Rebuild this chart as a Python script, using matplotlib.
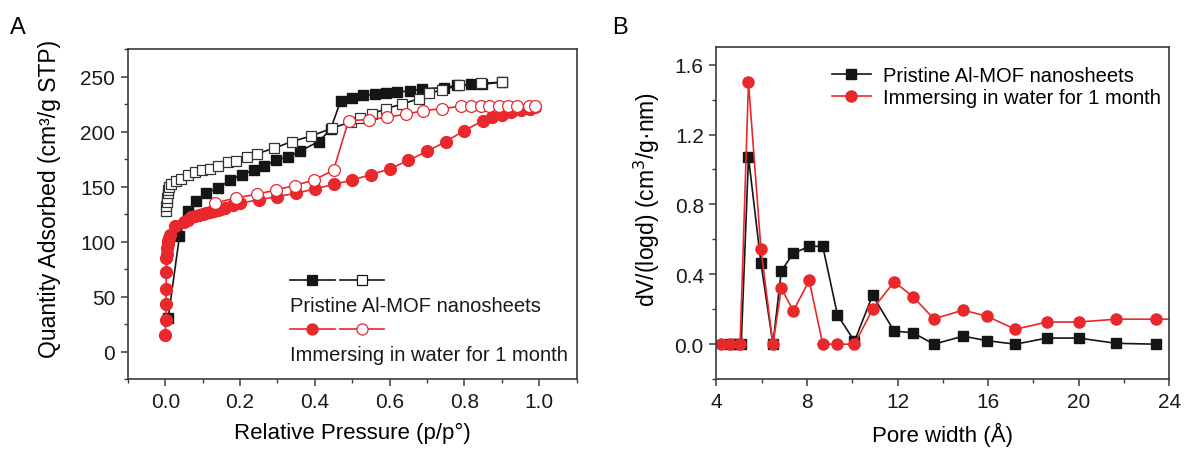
import matplotlib
matplotlib.use("Agg")
import matplotlib.pyplot as plt
from matplotlib.ticker import MultipleLocator, FormatStrFormatter

plt.rcParams['font.family'] = ['Liberation Sans', 'DejaVu Sans']
plt.rcParams['axes.linewidth'] = 1.2

RED = '#e8282b'
BLK = '#151515'

# ---- panel A: N2 isotherms (p/p0, cm3/g STP)
prist_ads_p = [0.008, 0.038, 0.06, 0.083, 0.11, 0.142, 0.174, 0.204, 0.236, 0.265, 0.295, 0.327,
               0.359, 0.41, 0.442, 0.469, 0.50, 0.53, 0.56, 0.59, 0.62, 0.654, 0.686, 0.745,
               0.78, 0.818, 0.848, 0.90]
prist_ads_q = [31, 105, 128, 137, 144, 149, 156, 161, 165, 169, 174, 177,
               182, 191, 202, 228, 231, 233, 234, 235, 236, 237, 239, 240,
               242, 243, 243, 245]
prist_des_p = [0.002, 0.003, 0.004, 0.005, 0.006, 0.008, 0.01, 0.016, 0.03, 0.043, 0.062, 0.08,
               0.097, 0.12, 0.142, 0.169, 0.19, 0.218, 0.245, 0.292, 0.338, 0.39, 0.445, 0.497,
               0.52, 0.553, 0.59, 0.633, 0.678, 0.705, 0.74, 0.786, 0.845, 0.9]
prist_des_q = [128, 132, 136, 140, 144, 147, 150, 152, 155, 157, 161, 163,
               165, 166, 169, 172, 173, 177, 180, 185, 191, 196, 203, 209,
               212, 216, 221, 225, 230, 235, 238, 242, 244, 245]
water_ads_p = [0.000, 0.001, 0.002, 0.002, 0.003, 0.003, 0.004, 0.005, 0.006, 0.007, 0.009, 0.012,
               0.027, 0.05, 0.06, 0.07, 0.08, 0.09, 0.10, 0.11, 0.12, 0.13, 0.14, 0.15, 0.16,
               0.18, 0.20, 0.25, 0.30, 0.35, 0.40, 0.45, 0.50, 0.55, 0.60, 0.65, 0.70, 0.75,
               0.80, 0.85, 0.875, 0.90, 0.925, 0.95, 0.975, 0.99]
water_ads_q = [15, 29, 43, 57, 72, 85, 89, 94, 98, 101, 103, 106,
               114, 118, 120, 122, 123, 124, 125, 126, 127, 128, 129, 130, 131,
               133, 135, 138, 141, 144, 148, 152, 156, 161, 166, 174, 182, 191,
               201, 210, 213, 215, 218, 220, 221, 222]
water_des_p = [0.134, 0.19, 0.245, 0.295, 0.346, 0.397, 0.45, 0.49, 0.544, 0.593, 0.643, 0.69,
               0.74, 0.79, 0.818, 0.845, 0.866, 0.893, 0.917, 0.94, 0.973, 0.99]
water_des_q = [135, 140, 143, 147, 151, 156, 165, 210, 211, 213, 216, 219,
               221, 223, 223, 223, 223, 223, 223, 223, 223, 223]

# ---- panel B: pore size distribution
prist_w = [4.6, 4.9, 5.1, 5.42, 5.97, 6.5, 6.87, 7.4, 8.1, 8.7, 9.35, 10.1, 10.9,
           11.85, 12.7, 13.6, 14.9, 15.95, 17.2, 18.6, 20.0, 21.65, 23.4]
prist_dv = [0.0, 0.0, 0.0, 1.07, 0.465, 0.0, 0.42, 0.52, 0.56, 0.56, 0.167, 0.017, 0.28,
            0.075, 0.065, 0.0, 0.046, 0.02, 0.0, 0.035, 0.035, 0.005, 0.0]
water_w = [4.2, 4.6, 5.05, 5.42, 5.97, 6.5, 6.87, 7.4, 8.1, 8.7, 9.35, 10.1, 10.9,
           11.85, 12.7, 13.6, 14.9, 15.95, 17.2, 18.6, 20.0, 21.65, 23.4, 25.2]
water_dv = [0.0, 0.0, 0.0, 1.50, 0.545, 0.0, 0.32, 0.19, 0.365, 0.0, 0.0, 0.0, 0.2,
            0.357, 0.27, 0.145, 0.195, 0.16, 0.085, 0.127, 0.127, 0.143, 0.143, 0.143]

fig = plt.figure(figsize=(11.84, 4.52), dpi=100)
axA = fig.add_axes([0.108, 0.159, 0.379, 0.730])
axB = fig.add_axes([0.605, 0.159, 0.3826, 0.7345])

# panel A
axA.plot(prist_ads_p, prist_ads_q, '-s', color=BLK, ms=7.5, lw=1.2, mfc=BLK, mec=BLK)
axA.plot(prist_des_p, prist_des_q, '-s', color=BLK, ms=7.5, lw=1.2, mfc='white', mec='#333333', mew=0.9)
axA.plot(water_ads_p, water_ads_q, '-o', color=RED, ms=8.5, lw=1.2, mfc=RED, mec=RED)
axA.plot(water_des_p, water_des_q, '-o', color=RED, ms=8.5, lw=1.2, mfc='white', mec=RED, mew=0.9)

axA.set_xlim(-0.1, 1.1)
axA.set_ylim(-25, 275)
axA.xaxis.set_major_locator(MultipleLocator(0.2))
axA.xaxis.set_minor_locator(MultipleLocator(0.1))
axA.yaxis.set_major_locator(MultipleLocator(50))
axA.yaxis.set_minor_locator(MultipleLocator(25))
axA.xaxis.set_major_formatter(FormatStrFormatter('%.1f'))
axA.set_xlabel('Relative Pressure (p/p°)', fontsize=16, labelpad=8)
axA.set_ylabel('Quantity Adsorbed (cm³/g STP)', fontsize=16.5)
axA.yaxis.set_label_coords(-0.148, 0.55)

# legend of panel A: two samples in a row, text below
legend_rows = [((BLK, 's', 7.5), 'Pristine Al-MOF nanosheets', 0.30),
               ((RED, 'o', 8.5), 'Immersing in water for 1 month', 0.152)]
x0 = (290 - 128) / 449
for (col, mk, ms), label, y in legend_rows:
    for k, face in enumerate([col, 'white']):
        xs = [x0 + k * 0.111, x0 + k * 0.111 + 0.05, x0 + k * 0.111 + 0.1]
        axA.plot(xs, [y] * 3, '-', color=col, lw=1.2, transform=axA.transAxes)
        axA.plot([xs[1]], [y], mk, mfc=face, mec=col, ms=ms - 0.5, mew=0.9,
                 transform=axA.transAxes)
    axA.text(x0, y - 0.077, label, fontsize=14.5, color='#1a1a1a',
             transform=axA.transAxes, va='center', ha='left')

# panel B
axB.plot(prist_w, prist_dv, '-s', color=BLK, ms=7.5, lw=1.2, label='Pristine Al-MOF nanosheets')
axB.plot(water_w, water_dv, '-o', color=RED, ms=8, lw=1.2, label='Immersing in water for 1 month')
axB.set_xlim(4, 24)
axB.set_ylim(-0.2, 1.7)
axB.xaxis.set_major_locator(MultipleLocator(4))
axB.xaxis.set_minor_locator(MultipleLocator(2))
axB.yaxis.set_major_locator(MultipleLocator(0.4))
axB.yaxis.set_minor_locator(MultipleLocator(0.2))
axB.yaxis.set_major_formatter(FormatStrFormatter('%.1f'))
axB.set_xlabel('Pore width (Å)', fontsize=16, labelpad=8)
axB.set_ylabel('dV/(logd) (cm$^3$/g·nm)', fontsize=16.5)
axB.yaxis.set_label_coords(-0.12, 0.545)
axB.legend(loc='upper left', bbox_to_anchor=(0.256, 0.944), frameon=False, fontsize=14.5,
           handlelength=1.9, handletextpad=0.6, labelspacing=0.15, borderpad=0, borderaxespad=0)

for ax in (axA, axB):
    for s in ax.spines.values():
        s.set_color('#3a3a3a')
    ax.tick_params(which='major', direction='out', length=5, width=1.1, labelsize=15,
                   color='#3a3a3a', labelcolor='#1a1a1a', pad=4)
    ax.tick_params(which='minor', direction='out', length=3, width=1.0, color='#3a3a3a')

fig.text(10 / 1184, 1 - 34 / 452, 'A', fontsize=17)
fig.text(612 / 1184, 1 - 34 / 452, 'B', fontsize=17)

fig.savefig('out.png', dpi=100, facecolor='white')
